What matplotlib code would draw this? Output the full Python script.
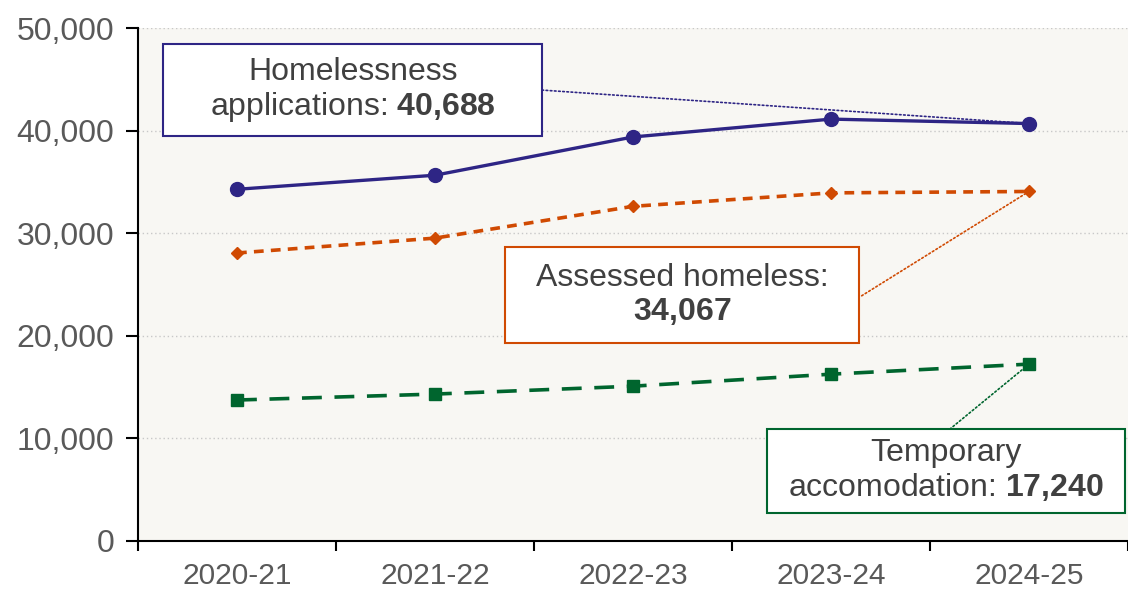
import matplotlib.pyplot as plt
from matplotlib.patches import Rectangle
from matplotlib.ticker import FuncFormatter

plt.rcParams['font.family'] = ['Liberation Sans', 'DejaVu Sans']
plt.rcParams['mathtext.fontset'] = 'custom'
plt.rcParams['mathtext.rm'] = 'Liberation Sans'
plt.rcParams['mathtext.bf'] = 'Liberation Sans:bold'

years = ["2020-21", "2021-22", "2022-23", "2023-24", "2024-25"]
applications = [34280, 35650, 39380, 41120, 40688]
assessed = [28070, 29520, 32620, 33930, 34067]
temporary = [13740, 14320, 15090, 16260, 17240]

navy = "#2E2585"
orange = "#D04A02"
green = "#00652E"
grey_txt = "#595959"
dark_txt = "#404040"

fig = plt.figure(figsize=(11.28, 5.91), dpi=100)
ax = fig.add_axes([138 / 1128, 50 / 591, 990 / 1128, 513 / 591])
ax.set_facecolor("#F8F7F3")

x = list(range(len(years)))
ax.plot(x, applications, color=navy, lw=2.4, marker="o", ms=10, zorder=3)
ax.plot(x, assessed, color=orange, lw=2.6, ls=(0, (2.7, 2.0)), marker="D", ms=6, zorder=3)
ax.plot(x, temporary, color=green, lw=2.6, ls=(0, (5.5, 3.5)), marker="s", ms=9, zorder=3)

ax.set_ylim(0, 50000)
ax.set_xlim(-0.5, 4.47)
ax.set_yticks(range(0, 50001, 10000))
ax.yaxis.set_major_formatter(FuncFormatter(lambda v, p: f"{int(v):,}"))
ax.grid(axis="y", color="#C8C8C8", ls=(0, (1, 2)), lw=1)
ax.set_axisbelow(True)

ax.set_xticks([i - 0.5 for i in range(len(years) + 1)])
ax.set_xticklabels([])
ax.set_xticks(x, minor=True)
ax.set_xticklabels(years, minor=True)
ax.tick_params(axis="x", which="major", length=7, width=1.5, direction="out")
ax.tick_params(axis="x", which="minor", length=0, pad=15, labelsize=21.5, labelcolor=grey_txt)
ax.tick_params(axis="y", length=9, width=1.5, pad=8, labelsize=23, labelcolor=grey_txt)

for s in ["top", "right"]:
    ax.spines[s].set_visible(False)
for s in ["left", "bottom"]:
    ax.spines[s].set_linewidth(1.5)

# callout boxes (axes fraction)
boxes = [
    ((0.0253, 0.789), 0.383, 0.180, navy, "Homelessness\napplications: $\\mathbf{40{,}688}$",
     (0.408, 0.879), (4, applications[-1])),
    ((0.3707, 0.386), 0.358, 0.187, orange, "Assessed homeless:\n$\\mathbf{34{,}067}$",
     (0.731, 0.478), (4, assessed[-1])),
    ((0.635, 0.0546), 0.362, 0.164, green, "Temporary\naccomodation: $\\mathbf{17{,}240}$",
     (0.820, 0.218), (4, temporary[-1])),
]
for (x0, y0), w, h, col, txt, start, end in boxes:
    ax.add_patch(Rectangle((x0, y0), w, h, transform=ax.transAxes, facecolor="white",
                           edgecolor=col, lw=1.5, zorder=4, clip_on=False))
    ax.text(x0 + w / 2, y0 + h / 2, txt, transform=ax.transAxes, ha="center", va="center",
            fontsize=23, color=dark_txt, linespacing=1.12, zorder=5)
    ax.annotate("", xy=end, xycoords="data", xytext=start, textcoords="axes fraction",
                arrowprops=dict(arrowstyle="-", color=col, lw=1.2, ls=(0, (1, 1.5)),
                                shrinkA=0, shrinkB=0), zorder=2)

fig.savefig("out.png", dpi=100)
